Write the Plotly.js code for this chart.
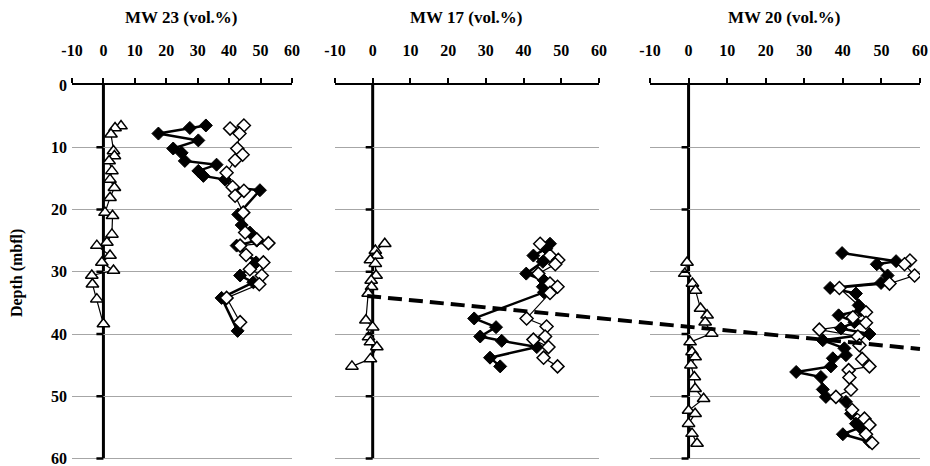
<!DOCTYPE html>
<html>
<head>
<meta charset="utf-8">
<script src="https://cdn.plot.ly/plotly-3.0.1.min.js"></script>
<style>html,body{margin:0;padding:0;background:#fff;}#chart{width:930px;height:466px;}</style>
</head>
<body>
<div id="chart"></div>
<script>
// ---------- DATA ----------
const panelTitles = ["MW 23 (vol.%)", "MW 17 (vol.%)", "MW 20 (vol.%)"];
const xTickVals = [-10, 0, 10, 20, 30, 40, 50, 60];
const depthTickVals = [0, 10, 20, 30, 40, 50, 60];

// MW 23
const mw23FilledDepth = [6.5, 6.9, 7.8, 8.9, 10.2, 10.9, 12.2, 12.8, 13.8, 14.6, 15.2, 16.5, 16.9, 20.8, 22.5, 23.7, 25.0, 25.8, 28.5, 30.6, 31.7, 34.2, 39.5];
const mw23FilledVal   = [32.6, 27.5, 17.5, 30.2, 22.2, 24.9, 25.9, 36.0, 30.2, 31.8, 38.7, 41.3, 49.8, 42.9, 44.0, 46.6, 48.8, 42.4, 48.6, 43.5, 47.7, 37.6, 42.7];
const mw23OpenDepth   = [6.5, 7.0, 7.8, 10.2, 11.2, 12.1, 14.1, 16.4, 17.0, 17.8, 20.5, 23.7, 24.8, 25.4, 25.8, 27.3, 28.5, 29.6, 30.6, 32.0, 34.2, 38.1];
const mw23OpenVal     = [44.7, 40.3, 43.3, 42.6, 44.3, 41.9, 39.2, 41.1, 44.7, 41.9, 44.5, 45.1, 48.8, 52.5, 43.5, 45.4, 50.9, 46.6, 50.4, 49.6, 39.2, 43.5];
const mw23TriDepth    = [6.6, 6.9, 7.9, 10.6, 11.4, 12.2, 13.8, 15.2, 16.5, 18.1, 20.5, 21.0, 24.0, 25.3, 25.8, 27.4, 28.5, 29.8, 30.6, 32.0, 34.4, 38.4];
const mw23TriVal      = [5.6, 3.7, 2.4, 3.2, 3.5, 1.8, 2.7, 2.1, 3.5, 2.1, 0.5, 2.9, 2.7, 1.1, -2.1, 2.1, -0.5, 3.2, -3.7, -3.5, -2.1, 0.0];

// MW 17
const mw17FilledDepth = [25.5, 26.3, 27.4, 28.4, 30.3, 31.4, 32.4, 33.3, 37.5, 38.9, 40.4, 41.1, 42.1, 43.8, 45.2];
const mw17FilledVal   = [47.0, 46.0, 42.6, 45.1, 40.7, 45.4, 45.1, 45.4, 26.9, 32.7, 28.5, 34.2, 43.5, 31.1, 33.8];
const mw17OpenDepth   = [25.5, 27.4, 28.1, 28.8, 30.3, 31.9, 32.4, 33.4, 37.5, 38.8, 40.4, 40.9, 42.1, 43.8, 45.2];
const mw17OpenVal     = [44.4, 47.0, 49.2, 48.4, 43.9, 47.0, 49.0, 47.0, 40.8, 46.1, 45.7, 42.6, 46.6, 45.3, 49.0];
const mw17TriDepth    = [25.5, 26.6, 27.4, 28.1, 28.7, 30.6, 31.4, 32.4, 33.5, 37.8, 38.9, 40.5, 41.3, 42.1, 44.0, 45.2];
const mw17TriVal      = [3.2, 0.7, 1.1, -0.6, 0.7, 0.9, -0.4, -0.3, -1.2, -1.8, 0.0, -1.1, -0.6, 1.1, -0.6, -5.5];

// MW 20
const mw20FilledDepth = [27.0, 28.3, 28.8, 30.6, 31.8, 32.6, 33.5, 35.4, 36.2, 37.0, 38.1, 39.1, 40.0, 41.0, 42.3, 43.4, 43.9, 45.2, 46.1, 46.9, 48.9, 50.1, 50.9, 52.8, 54.4, 55.0, 56.1, 57.3];
const mw20FilledVal   = [39.8, 53.8, 48.8, 51.6, 49.9, 36.7, 43.4, 44.1, 44.7, 38.9, 43.0, 39.5, 46.9, 34.8, 40.4, 40.8, 37.4, 36.9, 27.9, 34.3, 34.8, 35.6, 40.8, 42.1, 43.4, 44.5, 40.0, 46.9];
const mw20OpenDepth   = [28.2, 28.8, 30.6, 31.9, 32.6, 36.5, 37.3, 38.2, 39.3, 40.4, 41.8, 44.0, 45.2, 45.8, 47.0, 48.9, 50.1, 52.2, 53.6, 54.6, 56.1, 57.5];
const mw20OpenVal     = [57.4, 56.0, 58.6, 52.1, 39.1, 46.0, 42.6, 46.0, 33.9, 43.9, 44.3, 45.0, 46.9, 41.5, 41.7, 42.1, 38.2, 42.4, 45.6, 46.9, 46.0, 47.6];
const mw20TriDepth    = [28.5, 30.3, 31.9, 33.0, 35.9, 37.0, 38.1, 39.9, 41.3, 42.9, 43.7, 45.0, 46.9, 48.8, 50.4, 52.3, 52.8, 54.4, 56.0, 57.6];
const mw20TriVal      = [-0.4, -1.0, 1.0, 1.8, 3.1, 4.8, 4.3, 6.0, 0.4, 0.9, 1.7, 0.6, 1.5, 1.7, 3.9, 0.0, 1.7, 0.0, 0.9, 2.2];

// dashed boundary line (depths at its two ends)
const dashDepths = [33.9, 42.4];

// ---------- BUILD ----------
const FONT = "Liberation Serif, 'Times New Roman', serif";
const domains = [[0, 0.2594], [0.3101, 0.6215], [0.6816, 1.0]];
const xRange = [-10, 60];
const yRange = [60.4, 0];

const panels = [
  {f:[mw23FilledVal, mw23FilledDepth], o:[mw23OpenVal, mw23OpenDepth], t:[mw23TriVal, mw23TriDepth]},
  {f:[mw17FilledVal, mw17FilledDepth], o:[mw17OpenVal, mw17OpenDepth], t:[mw17TriVal, mw17TriDepth]},
  {f:[mw20FilledVal, mw20FilledDepth], o:[mw20OpenVal, mw20OpenDepth], t:[mw20TriVal, mw20TriDepth]}
];

const traces = [];
panels.forEach((p, i) => {
  const xa = i === 0 ? 'x' : 'x' + (i + 1);
  const ya = i === 0 ? 'y' : 'y' + (i + 1);
  traces.push({x:p.f[0], y:p.f[1], xaxis:xa, yaxis:ya, mode:'lines+markers', type:'scatter',
    line:{color:'#000', width:2.5}, marker:{symbol:'diamond', size:10, color:'#000', line:{color:'#000', width:1}}, showlegend:false, hoverinfo:'none'});
  traces.push({x:p.o[0], y:p.o[1], xaxis:xa, yaxis:ya, mode:'lines+markers', type:'scatter',
    line:{color:'#000', width:1.2}, marker:{symbol:'diamond', size:10, color:'#fff', line:{color:'#000', width:1.5}}, showlegend:false, hoverinfo:'none'});
  traces.push({x:p.t[0], y:p.t[1], xaxis:xa, yaxis:ya, mode:'lines+markers', type:'scatter',
    line:{color:'#000', width:1.2}, marker:{symbol:'triangle-up', size:11, color:'#fff', line:{color:'#000', width:1.5}}, showlegend:false, hoverinfo:'none'});
});

const layout = {
  width: 930, height: 466,
  margin: {l: 72, r: 10, t: 85, b: 5},
  paper_bgcolor: '#fff', plot_bgcolor: '#fff',
  font: {family: FONT, size: 16, color: '#000', weight: 700},
  showlegend: false,
  annotations: [],
  shapes: []
};

domains.forEach((d, i) => {
  const n = i === 0 ? '' : String(i + 1);
  const xa = i === 0 ? 'x' : 'x' + (i + 1);
  const ya = i === 0 ? 'y' : 'y' + (i + 1);
  layout['xaxis' + n] = {
    domain: d, range: xRange, side: 'top', anchor: ya,
    tickvals: xTickVals, ticktext: xTickVals.map(String),
    showline: true, linewidth: 2.5, linecolor: '#000', mirror: false,
    ticks: 'outside', ticklen: 5, tickwidth: 2, tickcolor: '#000',
    ticklabelstandoff: 15,
    showgrid: false,
    zeroline: false,
    tickfont: {family: FONT, size: 16, color: '#000', weight: 700},
    fixedrange: true
  };
  layout['yaxis' + n] = {
    domain: [0, 1], range: yRange, anchor: xa,
    tickvals: depthTickVals, showticklabels: i === 0,
    ticks: '', showline: false,
    showgrid: true, gridcolor: '#a6a6a6', gridwidth: 1,
    zeroline: false,
    ticklabelstandoff: 4, ticklabeloverflow: 'allow',
    tickfont: {family: FONT, size: 16, color: '#000', weight: 700},
    fixedrange: true
  };
  // vertical zero line from depth 0 to 60
  layout.shapes.push({
    type: 'line', xref: xa, yref: ya, x0: 0, x1: 0,
    y0: depthTickVals[0], y1: depthTickVals[depthTickVals.length - 1],
    line: {color: '#000', width: 3}, layer: 'below'
  });
  // short depth ticks on the zero line
  depthTickVals.slice(1).forEach(dv => {
    layout.shapes.push({
      type: 'line', xref: xa, yref: ya, xsizemode: 'pixel', xanchor: 0,
      x0: -7, x1: 0, y0: dv, y1: dv,
      line: {color: '#000', width: 2.5}, layer: 'above'
    });
  });
  layout.annotations.push({
    text: panelTitles[i], xref: 'paper', yref: 'paper',
    x: (d[0] + d[1]) / 2, y: 1.18, xanchor: 'center', yanchor: 'middle',
    showarrow: false, font: {family: FONT, size: 17, color: '#000', weight: 700}
  });
});

layout.annotations.push({
  text: 'Depth (mbfl)', xref: 'paper', yref: 'paper', x: -0.064, y: 0.499,
  xanchor: 'center', yanchor: 'middle', textangle: -90, showarrow: false,
  font: {family: FONT, size: 16, color: '#000', weight: 700}
});

layout.shapes.push({
  type: 'line', xref: 'paper', yref: 'y', x0: 0.348, x1: 1.0,
  y0: dashDepths[0], y1: dashDepths[1],
  line: {color: '#000', width: 4, dash: '14px,7px'}, layer: 'above'
});

Plotly.newPlot('chart', traces, layout, {staticPlot: true, displayModeBar: false});
</script>
</body>
</html>
